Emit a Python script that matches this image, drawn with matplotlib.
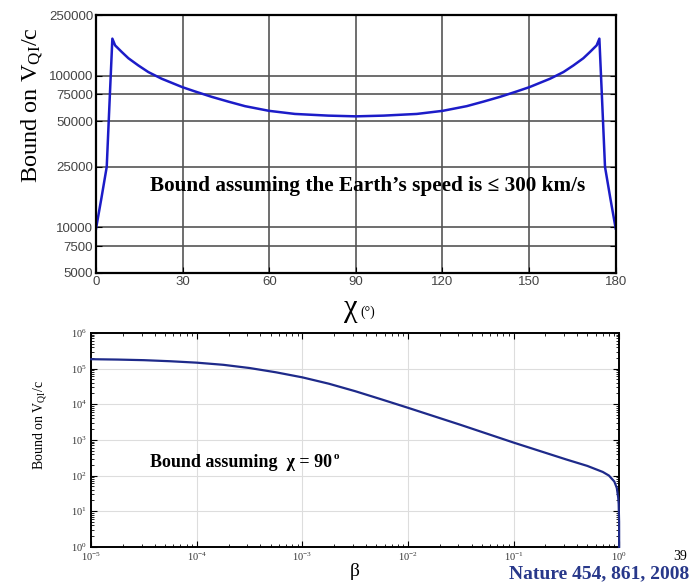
import numpy as np
import matplotlib
matplotlib.use("Agg")
import matplotlib.pyplot as plt
from matplotlib.ticker import FixedLocator, FixedFormatter, LogLocator, NullFormatter

plt.rcParams['mathtext.fontset'] = 'custom'
plt.rcParams['mathtext.rm'] = 'Liberation Serif'
plt.rcParams['mathtext.it'] = 'Liberation Serif:italic'

SERIF = ['Liberation Serif', 'DejaVu Serif']
SANS = ['Liberation Sans', 'DejaVu Sans']

# ---------------- data ----------------
# top panel: bound vs chi (degrees), Earth's speed <= 300 km/s
chi = [0, 1.85, 3.7, 4.65, 5.65, 6.6, 8.9, 11.2, 14.65, 18.1, 22.7, 29.9, 34.3,
       40.0, 45.8, 51.6, 59.9, 68.9, 80.4, 90.0,
       99.6, 111.1, 120.1, 128.4, 134.2, 140.0, 145.7, 150.1, 157.3, 161.9, 165.35,
       168.8, 171.1, 173.4, 174.35, 175.35, 176.3, 178.15, 180]
bound_chi = [9800, 15500, 25000, 65000, 175000, 158000, 143000, 130000, 116500,
             105400, 95300, 83800, 78500, 72400, 67300, 62800, 58500, 55800,
             54400, 53800,
             54400, 55800, 58500, 62800, 67300, 72400, 78500, 83800, 95300,
             105400, 116500, 130000, 143000, 158000, 175000, 65000, 25000, 15500, 9800]
chi_ticks = [0, 30, 60, 90, 120, 150, 180]
bound_ticks = [5000, 7500, 10000, 25000, 50000, 75000, 100000, 250000]

# bottom panel: bound vs beta, chi = 90 deg
beta = [1e-5, 1.78e-5, 3.16e-5, 5.62e-5, 1e-4, 1.78e-4, 3.16e-4, 5.62e-4, 1e-3,
        1.78e-3, 3.16e-3, 5.62e-3, 1e-2, 3.16e-2, 1e-1, 0.316, 0.5, 0.7, 0.8,
        0.9, 0.95, 0.98, 0.99, 0.999, 0.9999, 1.0]
bound_beta = [183000, 178600, 171800, 160300, 146200, 127400, 103500, 78500,
              56600, 37600, 23200, 13650, 7940, 2630, 840, 282, 186, 126, 100,
              68, 45, 24, 16, 5, 2, 1]
beta_ticks = [1e-5, 1e-4, 1e-3, 1e-2, 1e-1, 1e0]
beta_labels = [r'$10^{-5}$', r'$10^{-4}$', r'$10^{-3}$', r'$10^{-2}$', r'$10^{-1}$', r'$10^{0}$']
ybeta_ticks = [1e0, 1e1, 1e2, 1e3, 1e4, 1e5, 1e6]
ybeta_labels = [r'$10^{%d}$' % k for k in range(7)]

# ---------------- plot ----------------
fig = plt.figure(figsize=(6.91, 5.83), dpi=100)

ax1 = fig.add_axes([0.139, 0.532, 0.752, 0.442])
ax1.plot(chi, bound_chi, '-', color="#1c1cc8", lw=1.8)
ax1.set_yscale('log')
ax1.set_xlim(0, 180)
ax1.set_ylim(5000, 250000)
ax1.xaxis.set_major_locator(FixedLocator(chi_ticks))
ax1.yaxis.set_major_locator(FixedLocator(bound_ticks))
ax1.yaxis.set_major_formatter(FixedFormatter([str(v) for v in bound_ticks]))
ax1.yaxis.set_minor_locator(FixedLocator([]))
ax1.grid(True, which='major', color='#555555', lw=1.2)
ax1.tick_params(direction='in', length=4, right=True, top=False, labelsize=9.5,
                labelcolor='#444444', pad=2)
for lab in ax1.get_xticklabels() + ax1.get_yticklabels():
    lab.set_family(SANS)
for s in ax1.spines.values():
    s.set_linewidth(1.6)
ax1.set_ylabel(r'Bound on V$_{\mathrm{QI}}$/c', family=SERIF, fontsize=17.5)
ax1.yaxis.set_label_coords(-0.098, 0.65)
ax1.text(0.523, 0.337, 'Bound assuming the Earth\u2019s speed is \u2264 300 km/s',
         transform=ax1.transAxes, ha='center', va='center',
         family=SERIF, fontsize=15.3, fontweight='bold')
fig.text(0.518, 0.458, '\u03c7', family=SERIF, fontsize=22, ha='right', va='baseline')
fig.text(0.522, 0.458, '(\u00b0)', family=SERIF, fontsize=10, ha='left', va='baseline')

ax2 = fig.add_axes([0.132, 0.062, 0.764, 0.367])
ax2.plot(beta, bound_beta, '-', color="#1e2a8a", lw=1.6, clip_on=False, zorder=3)
ax2.set_xscale('log')
ax2.set_yscale('log')
ax2.set_xlim(1e-5, 1)
ax2.set_ylim(1, 1e6)
ax2.xaxis.set_major_locator(FixedLocator(beta_ticks))
ax2.xaxis.set_major_formatter(FixedFormatter(beta_labels))
ax2.yaxis.set_major_locator(FixedLocator(ybeta_ticks))
ax2.yaxis.set_major_formatter(FixedFormatter(ybeta_labels))
ax2.xaxis.set_minor_locator(LogLocator(base=10, subs=np.arange(2, 10)))
ax2.yaxis.set_minor_locator(LogLocator(base=10, subs=np.arange(2, 10)))
ax2.xaxis.set_minor_formatter(NullFormatter())
ax2.yaxis.set_minor_formatter(NullFormatter())
ax2.grid(True, which='major', color='#dddddd', lw=0.8)
ax2.tick_params(which='both', direction='in', top=True, right=True, labelsize=7.5,
                labelcolor='#333333', pad=3)
ax2.tick_params(which='major', length=4)
ax2.tick_params(which='minor', length=2)
for s in ax2.spines.values():
    s.set_linewidth(1.4)
ax2.set_ylabel(r'Bound on V$_{\mathrm{QI}}$/c', family=SERIF, fontsize=10)
ax2.yaxis.set_label_coords(-0.081, 0.57)
ax2.set_xlabel('\u03b2', family=SERIF, fontsize=14, labelpad=0)
txt = ax2.text(0.112, 0.375, 'Bound assuming  \u03c7 = 90', transform=ax2.transAxes,
               ha='left', va='baseline', family=SERIF, fontsize=13, fontweight='bold')
ax2.annotate('o', xy=(1.0, 0.55), xycoords=txt, xytext=(1, 0), textcoords='offset points',
             ha='left', va='bottom', family=SERIF, fontsize=8, fontweight='bold')

fig.text(0.998, 0.008, 'Nature 454, 861, 2008', family=SERIF, fontsize=14,
         fontweight='bold', color='#28388a', ha='right', va='baseline')
fig.text(0.995, 0.040, '39', family=SERIF, fontsize=10, ha='right', va='baseline')

fig.savefig('out.png', dpi=100)
